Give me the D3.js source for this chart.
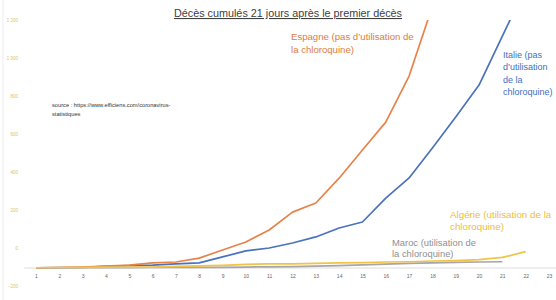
<!DOCTYPE html>
<html>
<head>
<meta charset="utf-8">
<script src="https://cdnjs.cloudflare.com/ajax/libs/d3/7.8.5/d3.min.js"></script>
<style>
  html, body { margin: 0; padding: 0; background: #fff; }
  svg { display: block; font-family: "Liberation Sans", Arial, sans-serif; }
</style>
</head>
<body>
<svg id="chart"></svg>
<script>
var width = 556,
    height = 300;

// jours depuis le premier décès
var days = d3.range(1, 24);

// décès cumulés
var espagne = [1, 2, 4, 8, 12, 21, 25, 41, 75, 108, 158, 232, 270, 373, 490, 606, 797, 1087];
var italie  = [1, 2, 3, 7, 10, 12, 17, 21, 46, 71, 83, 104, 129, 166, 191, 290, 374, 498, 627, 760, 963, 1166];
var algerie = [1, 2, 3, 4, 4, 4, 7, 9, 11, 15, 17, 17, 19, 21, 22, 25, 26, 29, 31, 35, 44, 68];
var maroc   = [1, 1, 1, 1, 1, 2, 2, 3, 3, 4, 5, 6, 8, 10, 13, 16, 19, 21, 23, 25, 26];

// étiquettes de l'axe vertical
var yTicks = [-200, 0, 200, 400, 600, 800, 1000, 1200];

var fr = d3.formatLocale({ decimal: ",", thousands: "\u00a0", grouping: [3], currency: ["", " €"] });

var svg = d3.select('#chart').attr('width', width).attr('height', height);

var x = d3.scaleLinear().domain([1, 23]).range([36, 549]);
var y = d3.scaleLinear().domain([0, 1030]).range([268, 20]);
var yLabels = d3.scaleLinear().domain([-200, 1200]).range([286, 20]);

// bordure gauche
svg.append('line')
  .attr('x1', 3).attr('x2', 3).attr('y1', 0).attr('y2', height)
  .attr('stroke', '#ececec').attr('stroke-width', 1);

// axe vertical (étiquettes seules)
svg.append('g')
  .attr('transform', 'translate(18,0)')
  .call(d3.axisLeft(yLabels).tickValues(yTicks).tickSize(0).tickPadding(0).tickFormat(fr.format(',')))
  .call(function(g){
    g.select('.domain').remove();
    g.selectAll('text').attr('fill', '#e3c05e').attr('font-size', 4.5);
  });

// axe horizontal
svg.append('line')
  .attr('x1', x(0.5)).attr('x2', x(23.3))
  .attr('y1', y(0)).attr('y2', y(0))
  .attr('stroke', '#dcdcdc').attr('stroke-width', 1);

svg.append('g')
  .attr('transform', 'translate(0,' + y(0) + ')')
  .call(d3.axisBottom(x).tickValues(days).tickSize(0).tickPadding(6).tickFormat(d3.format('d')))
  .call(function(g){
    g.select('.domain').remove();
    g.selectAll('text').attr('fill', '#666').attr('font-size', 5);
  });

svg.append('clipPath').attr('id', 'plot')
  .append('rect').attr('x', 0).attr('y', y(1030)).attr('width', width).attr('height', height);

var line = d3.line()
  .x(function(d, i){ return x(i + 1); })
  .y(function(d){ return y(d); });

var series = [
  { values: italie,  color: '#4a72bd' },
  { values: espagne, color: '#e7834a' },
  { values: maroc,   color: '#a6a6a6' },
  { values: algerie, color: '#f2c344' }
];

svg.append('g').attr('clip-path', 'url(#plot)')
  .selectAll('path')
  .data(series)
  .enter()
    .append('path')
    .attr('d', function(s){ return line(s.values); })
    .attr('fill', 'none')
    .attr('stroke', function(s){ return s.color; })
    .attr('stroke-width', 1.7)
    .attr('stroke-linejoin', 'round');

// titre
svg.append('text')
  .attr('x', 288).attr('y', 17)
  .attr('text-anchor', 'middle')
  .attr('font-size', 10.8)
  .attr('fill', '#404040')
  .attr('text-decoration', 'underline')
  .text('Décès cumulés 21 jours après le premier décès');

// annotations
var notes = [
  { x: 291, y: 40, color: '#e07c3e', size: 9.6, lines: ['Espagne (pas d\u2019utilisation de', 'la chloroquine)'], step: 13 },
  { x: 503, y: 58, color: '#3f6fbf', size: 9, lines: ['Italie (pas', 'd\u2019utilisation', 'de la', 'chloroquine)'], step: 12.3 },
  { x: 450, y: 218, color: '#efbd3a', size: 9.8, lines: ['Algérie (utilisation de la', 'chloroquine)'], step: 11.5 },
  { x: 392, y: 246, color: '#8f8f8f', size: 9.4, lines: ['Maroc (utilisation de', 'la chloroquine)'], step: 10.8 },
  { x: 52, y: 107, color: '#333', size: 5.7, lines: ['source : https://www.efficiens.com/coronavirus-', 'statistiques'], step: 9 }
];

notes.forEach(function(n){
  var t = svg.append('text')
    .attr('font-size', n.size)
    .attr('fill', n.color);
  n.lines.forEach(function(l, i){
    t.append('tspan')
      .attr('x', n.x)
      .attr('y', n.y + i * n.step)
      .text(l);
  });
});
</script>
</body>
</html>
